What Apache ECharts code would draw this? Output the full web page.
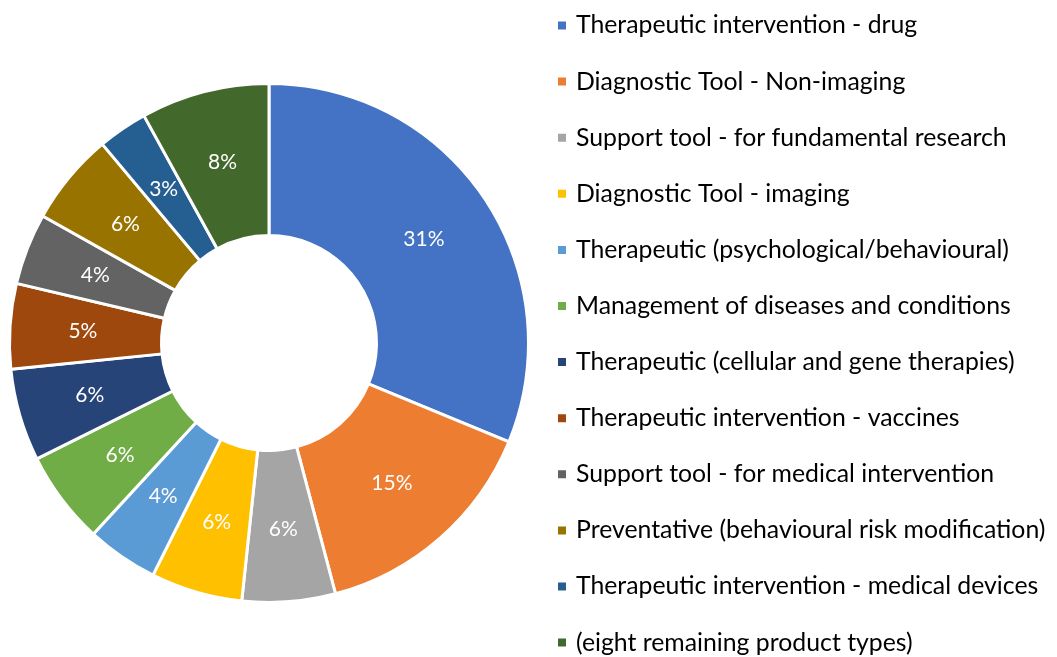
<!DOCTYPE html>
<html>
<head>
<meta charset="utf-8">
<script src="https://cdn.jsdelivr.net/npm/echarts@6/dist/echarts.min.js"></script>
<style>
    html, body { margin: 0; padding: 0; background: #fff; }
    #donut { width: 1057px; height: 657px; }
</style>
</head>
<body>
<div id="donut"></div>
<script>
    // product types (legend order = slice order, clockwise from 12 o'clock)
    var categories = [
        'Therapeutic intervention - drug',
        'Diagnostic Tool - Non-imaging',
        'Support tool - for fundamental research',
        'Diagnostic Tool - imaging',
        'Therapeutic (psychological/behavioural)',
        'Management of diseases and conditions',
        'Therapeutic (cellular and gene therapies)',
        'Therapeutic intervention - vaccines',
        'Support tool - for medical intervention',
        'Preventative (behavioural risk modification)',
        'Therapeutic intervention - medical devices',
        '(eight remaining product types)'
    ];
    // share of products, %
    var shares = [31.2, 14.65, 5.8, 5.7, 4.45, 5.8, 5.75, 5.3, 4.45, 5.75, 3.1, 8.0];

    var colors = ['#4472C4', '#ED7D31', '#A5A5A5', '#FFC000', '#5B9BD5', '#70AD47',
                  '#264478', '#9E480E', '#636363', '#997300', '#255E91', '#43682B'];

    var pieData = [];
    for (var i = 0; i < categories.length; i++) {
        pieData.push({ name: categories[i], value: shares[i] });
    }

    var myChart = echarts.init(document.getElementById('donut'));
    myChart.setOption({
        animation: false,
        color: colors,
        textStyle: { fontFamily: 'Lato' },
        legend: {
            orient: 'vertical',
            left: 556,
            top: 12.5,
            height: 644,
            padding: 0,
            icon: 'rect',
            itemWidth: 10,
            itemHeight: 10,
            itemGap: 30.1,
            data: categories,
            textStyle: {
                fontFamily: 'Lato',
                fontSize: 24.8,
                lineHeight: 26,
                color: '#000',
                padding: [0, 0, 0, 4]
            }
        },
        series: [
            {
                type: 'pie',
                center: [269, 343],
                radius: [107.5, 259.5],
                startAngle: 90,
                clockwise: true,
                avoidLabelOverlap: false,
                itemStyle: {
                    borderColor: '#fff',
                    borderWidth: 3
                },
                label: {
                    show: true,
                    position: 'inside',
                    color: '#fff',
                    fontFamily: 'Lato',
                    fontSize: 21,
                    formatter: function (p) {
                        return Math.round(p.percent) + '%';
                    }
                },
                labelLine: { show: false },
                emphasis: { disabled: true },
                data: pieData
            }
        ]
    });
</script>
</body>
</html>
